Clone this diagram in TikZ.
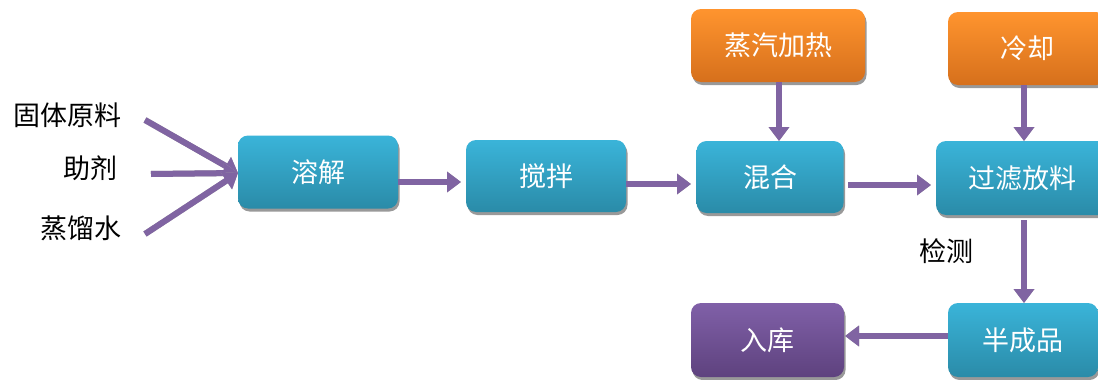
\documentclass[tikz,border=0pt]{standalone}
\usepackage{fontspec}
\setmainfont{Noto Sans CJK SC}
\usetikzlibrary{arrows.meta,shadows}
\definecolor{bluetop}{HTML}{3AB4D9}
\definecolor{bluebot}{HTML}{2A8BA8}
\definecolor{orgtop}{HTML}{FF942E}
\definecolor{orgbot}{HTML}{D6701C}
\definecolor{purtop}{HTML}{8060A8}
\definecolor{purbot}{HTML}{5E427E}
\definecolor{arr}{HTML}{8064A2}
\tikzset{
  box/.style={rounded corners=10pt, text=white, font=\fontsize{27}{30}\selectfont,
    drop shadow={shadow xshift=1.5pt, shadow yshift=-3pt, fill=gray!80, opacity=1}},
  bluebox/.style={box, top color=bluetop, bottom color=bluebot},
  orgbox/.style={box, top color=orgtop, bottom color=orgbot},
  purbox/.style={box, top color=purtop, bottom color=purbot},
  lbl/.style={text=black, font=\fontsize{27}{30}\selectfont},
  flow/.style={draw=arr, line width=6pt, -{Triangle[length=14pt,width=20pt]}},
  flowshadow/.style={draw=gray!70, line width=6pt, -{Triangle[length=14pt,width=20pt]}, shift={(1.5pt,2.5pt)}}
}
\newcommand{\flowarrow}[2]{%
  \draw[flowshadow] (#1) -- (#2);
  \draw[flow] (#1) -- (#2);}
\begin{document}
\begin{tikzpicture}[x=1pt,y=-1pt]
\clip (0,0) rectangle (1098,380);
\fill[white] (0,0) rectangle (1098,380);

\node[bluebox, minimum width=160pt, minimum height=73pt] (rj) at (318,172) {溶解};
\node[bluebox, minimum width=160pt, minimum height=72pt] (jb) at (546,176) {搅拌};
\node[bluebox, minimum width=147pt, minimum height=72pt] (hh) at (770,177) {混合};
\node[orgbox, minimum width=174pt, minimum height=73pt] (zq) at (778,45.5) {蒸汽加热};
\node[orgbox, minimum width=158pt, minimum height=73pt] (lq) at (1027,48.5) {冷却};
\node[bluebox, minimum width=172pt, minimum height=74pt] (gl) at (1022,178) {过滤放料};
\node[bluebox, minimum width=150pt, minimum height=74pt] (bc) at (1023,340) {半成品};
\node[purbox, minimum width=153pt, minimum height=74pt] (rk) at (767.5,340) {入库};

\node[lbl] (l1) at (67,115) {固体原料};
\node[lbl] (l2) at (90,168) {助剂};
\node[lbl] (l3) at (81,228) {蒸馏水};
\node[lbl] (jc) at (946,251) {检测};

\coordinate (s1) at (145,120);
\coordinate (s2) at (151,174);
\coordinate (s3) at (145,234);
\coordinate (tip) at (238,173);
\flowarrow{s1}{tip}
\flowarrow{s2}{tip}
\flowarrow{s3}{tip}

\coordinate (a1) at (398,182);
\coordinate (a2) at (461,182);
\flowarrow{a1}{a2}
\coordinate (b1) at (626,184);
\coordinate (b2) at (691,184);
\flowarrow{b1}{b2}
\coordinate (c1) at (848,185);
\coordinate (c2) at (931,185);
\flowarrow{c1}{c2}
\coordinate (g1) at (779,82);
\coordinate (g2) at (779,141);
\flowarrow{g1}{g2}
\coordinate (d1) at (1024,85);
\coordinate (d2) at (1024,141);
\flowarrow{d1}{d2}
\coordinate (e1) at (1024,220);
\coordinate (e2) at (1024,303);
\flowarrow{e1}{e2}
\coordinate (f1) at (948,336);
\coordinate (f2) at (845,336);
\flowarrow{f1}{f2}
\end{tikzpicture}
\end{document}
